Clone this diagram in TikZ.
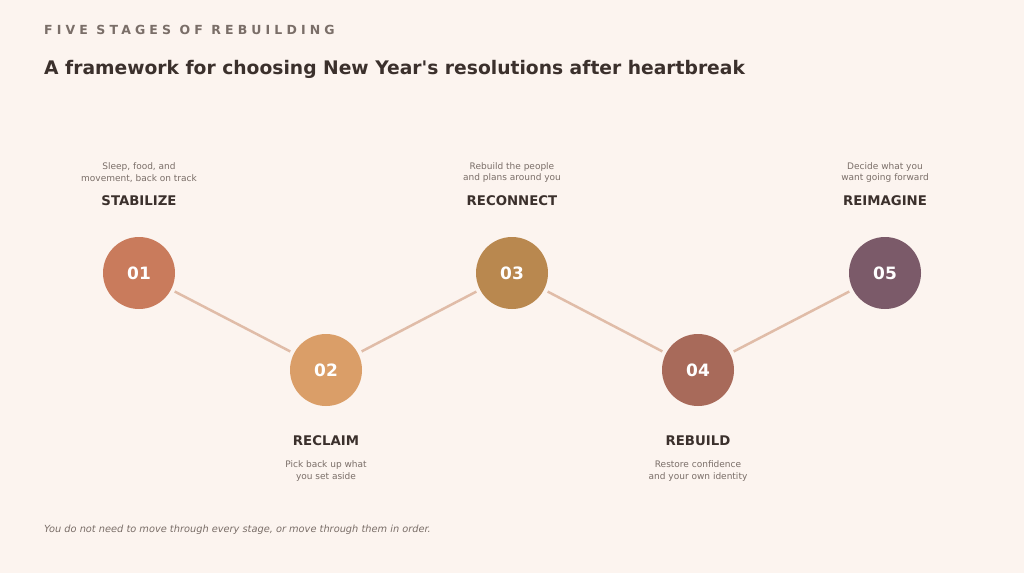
\documentclass[tikz,border=0pt]{standalone}
\usepackage{fontspec}
\setmainfont{DejaVu Sans}
\newfontfamily\spacedfont[LetterSpace=33]{DejaVu Sans}
\definecolor{bg}{RGB}{252, 244, 239}
\definecolor{ink}{RGB}{59, 48, 44}
\definecolor{soft}{RGB}{122, 110, 104}
\definecolor{link}{RGB}{224, 188, 168}
\definecolor{sa}{RGB}{201, 123, 92}
\definecolor{sb}{RGB}{218, 158, 104}
\definecolor{sc}{RGB}{185, 136, 79}
\definecolor{sd}{RGB}{168, 106, 90}
\definecolor{se}{RGB}{123, 90, 105}

\begin{document}
\begin{tikzpicture}[x=1pt, y=1pt,
  stage/.style={circle, minimum size=72pt, inner sep=0pt, text=white, font=\fontsize{17}{20}\selectfont\bfseries},
  stagename/.style={text=ink, font=\fontsize{13.3}{15}\selectfont\bfseries},
  stagenote/.style={text=soft, align=center, font=\fontsize{9}{11.5}\selectfont}]
\fill [bg] (0pt, 0pt) rectangle (1024pt, -573pt);
\useasboundingbox (0pt, 0pt) rectangle (1024pt, -573pt);
\node [anchor=base west, inner sep=0pt, text=soft, font=\fontsize{12.5}{14}\spacedfont\bfseries] at (44pt, -34.5pt) {FIVE STAGES OF REBUILDING};
\node [anchor=base west, inner sep=0pt, text=ink, font=\fontsize{18.7}{22}\selectfont\bfseries] at (44pt, -74pt) {A framework for choosing New Year\textquotesingle s resolutions after heartbreak};
\node (1) [stage, fill=sa] at (139pt, -273pt) {01};
\node (2) [stage, fill=sb] at (326pt, -370pt) {02};
\node (3) [stage, fill=sc] at (512pt, -273pt) {03};
\node (4) [stage, fill=sd] at (698pt, -370pt) {04};
\node (5) [stage, fill=se] at (885pt, -273pt) {05};
\draw [line width=2.5pt, color=link, shorten <=4pt, shorten >=4pt] (1) to (2);
\draw [line width=2.5pt, color=link, shorten <=4pt, shorten >=4pt] (2) to (3);
\draw [line width=2.5pt, color=link, shorten <=4pt, shorten >=4pt] (3) to (4);
\draw [line width=2.5pt, color=link, shorten <=4pt, shorten >=4pt] (4) to (5);
\node [stagename] at (139pt, -201pt) {STABILIZE};
\node [stagenote] at (139pt, -172.5pt) {Sleep, food, and\\movement, back on track};
\node [stagename] at (326pt, -441pt) {RECLAIM};
\node [stagenote] at (326pt, -471pt) {Pick back up what\\you set aside};
\node [stagename] at (512pt, -201pt) {RECONNECT};
\node [stagenote] at (512pt, -172.5pt) {Rebuild the people\\and plans around you};
\node [stagename] at (698pt, -441pt) {REBUILD};
\node [stagenote] at (698pt, -471pt) {Restore confidence\\and your own identity};
\node [stagename] at (885pt, -201pt) {REIMAGINE};
\node [stagenote] at (885pt, -172.5pt) {Decide what you\\want going forward};
\node [anchor=base west, inner sep=0pt, text=soft, font=\fontsize{9.8}{12}\selectfont\itshape] at (44pt, -532pt) {You do not need to move through every stage, or move through them in order.};
\end{tikzpicture}
\end{document}
